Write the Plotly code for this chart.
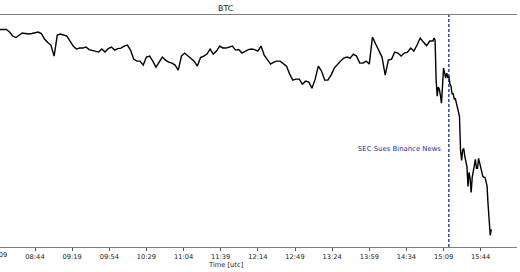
import pandas as pd
import plotly.graph_objects as go

DATE = "2023-06-05"

# BTC price, 3-minute samples from 08:11 to 14:59 (UTC)
seg1_start = "08:11"
seg1_step_min = 3
seg1_px = [29.5, 29.5, 29.5, 32, 36, 37.5, 35, 33, 33.5, 34, 33.5, 32.5, 32, 33.5, 39, 42.5, 45, 56,
           35, 34, 35, 36, 41, 46, 49, 48, 48, 47, 49.5, 50.5, 51, 52, 49, 52, 48.5, 47, 50, 48.5,
           48, 46, 45, 50, 59, 61, 61, 65, 57, 56, 61, 67, 62, 57, 60, 62, 63, 65, 70, 56, 53, 56,
           58, 61, 66, 57.5, 56, 54, 49, 54, 51, 46, 48, 48, 47, 46, 50, 49.5, 53, 51, 49.5, 49,
           49.5, 51, 46, 55, 59.5, 64, 62, 61, 61, 64, 66, 74, 80, 79, 79, 84, 81, 82, 88, 79, 66,
           71, 80, 80, 75, 68, 64, 61, 58, 57, 58, 54, 56, 63, 63, 61, 64, 37, 44, 51, 57, 75, 60,
           59, 52, 53, 56, 53, 52, 48, 51, 45, 38, 42, 45.5, 41, 41]
# BTC price, 1-minute samples from 15:00 to 15:54 (UTC)
seg2_start = "15:00"
seg2_step_min = 1
seg2_px = [38, 40, 80, 96, 87, 89, 95, 103, 86, 68, 73, 78, 73, 77, 76, 84, 86, 94, 93, 99, 98, 102,
           106, 110, 116, 150, 160, 150, 148, 156, 160, 166, 186, 172, 178, 192, 177, 170, 163, 159,
           168, 168, 158, 163, 167, 171, 176, 177, 177, 181, 186, 205, 225, 235, 229]

# convert the read chart heights into USD prices
prices1 = [round(26977 - 6 * v) for v in seg1_px]
prices2 = [round(26977 - 6 * v) for v in seg2_px]

tick_labels = ["08:09", "08:44", "09:19", "09:54", "10:29", "11:04", "11:39", "12:14",
               "12:49", "13:24", "13:59", "14:34", "15:09", "15:44"]
event_time = "15:14"
event_label = "SEC Sues Binance News"
title_text = "BTC"
x_title = "Time [utc]"

t1 = pd.date_range(f"{DATE} {seg1_start}", periods=len(prices1), freq=f"{seg1_step_min}min")
t2 = pd.date_range(f"{DATE} {seg2_start}", periods=len(prices2), freq=f"{seg2_step_min}min")
times = list(t1) + list(t2)
prices = prices1 + prices2

x_start = pd.Timestamp(f"{DATE} 08:11:01")
x_end = pd.Timestamp(f"{DATE} 16:18:12")
y_lo, y_hi = 25498, 26887

fig = go.Figure()
fig.add_trace(go.Scatter(x=times, y=prices, mode="lines",
                         line=dict(color="black", width=1.4), hoverinfo="skip",
                         showlegend=False))

ev = pd.Timestamp(f"{DATE} {event_time}")
fig.add_shape(type="line", xref="x", yref="paper", x0=ev, x1=ev, y0=0, y1=1,
              line=dict(color="#0a1a8c", width=1.2, dash="3px,2px"))

fontfam = "DejaVu Sans, sans-serif"
tickvals = [pd.Timestamp(f"{DATE} {t}") for t in tick_labels]

fig.update_layout(
    width=520, height=272,
    margin=dict(l=0, r=3, t=15, b=25),
    paper_bgcolor="white", plot_bgcolor="white",
    font=dict(family=fontfam, size=6.6, color="#222"),
    xaxis=dict(range=[x_start, x_end], tickvals=tickvals, ticktext=tick_labels,
               ticks="outside", ticklen=2.5, tickcolor="#555", tickwidth=0.8,
               showgrid=False, zeroline=False, showline=True, linecolor="#808080",
               linewidth=1, mirror=True, tickfont=dict(size=6.7, color="#222")),
    yaxis=dict(range=[y_lo, y_hi], showticklabels=False, ticks="", showgrid=False,
               zeroline=False, showline=False),
)

# tick label that falls just outside the visible area (cut at the left edge, as in the source)
px_w = 517.0
first_tick_px = -2.1
fig.add_annotation(text=tick_labels[0], xref="paper", yref="paper",
                   x=first_tick_px / px_w, y=0, yshift=-7.6, xanchor="center",
                   yanchor="middle", showarrow=False,
                   font=dict(family=fontfam, size=6.7, color="#222"))

fig.add_annotation(text=title_text, xref="paper", yref="paper", x=226 / px_w, y=1,
                   yshift=6.8, xanchor="center", yanchor="middle", showarrow=False,
                   font=dict(family=fontfam, size=7.9, color="#111"))
fig.add_annotation(text=x_title, xref="paper", yref="paper", x=225.5 / px_w, y=0,
                   yshift=-17.6, xanchor="center", yanchor="middle", showarrow=False,
                   font=dict(family=fontfam, size=6.7, color="#222"))
fig.add_annotation(text=event_label, xref="x", yref="paper", x=ev, y=0.423,
                   xshift=-6, xanchor="right", yanchor="middle", showarrow=False,
                   font=dict(family=fontfam, size=6.9, color="#1f3290"))

fig.write_html("out.html")
